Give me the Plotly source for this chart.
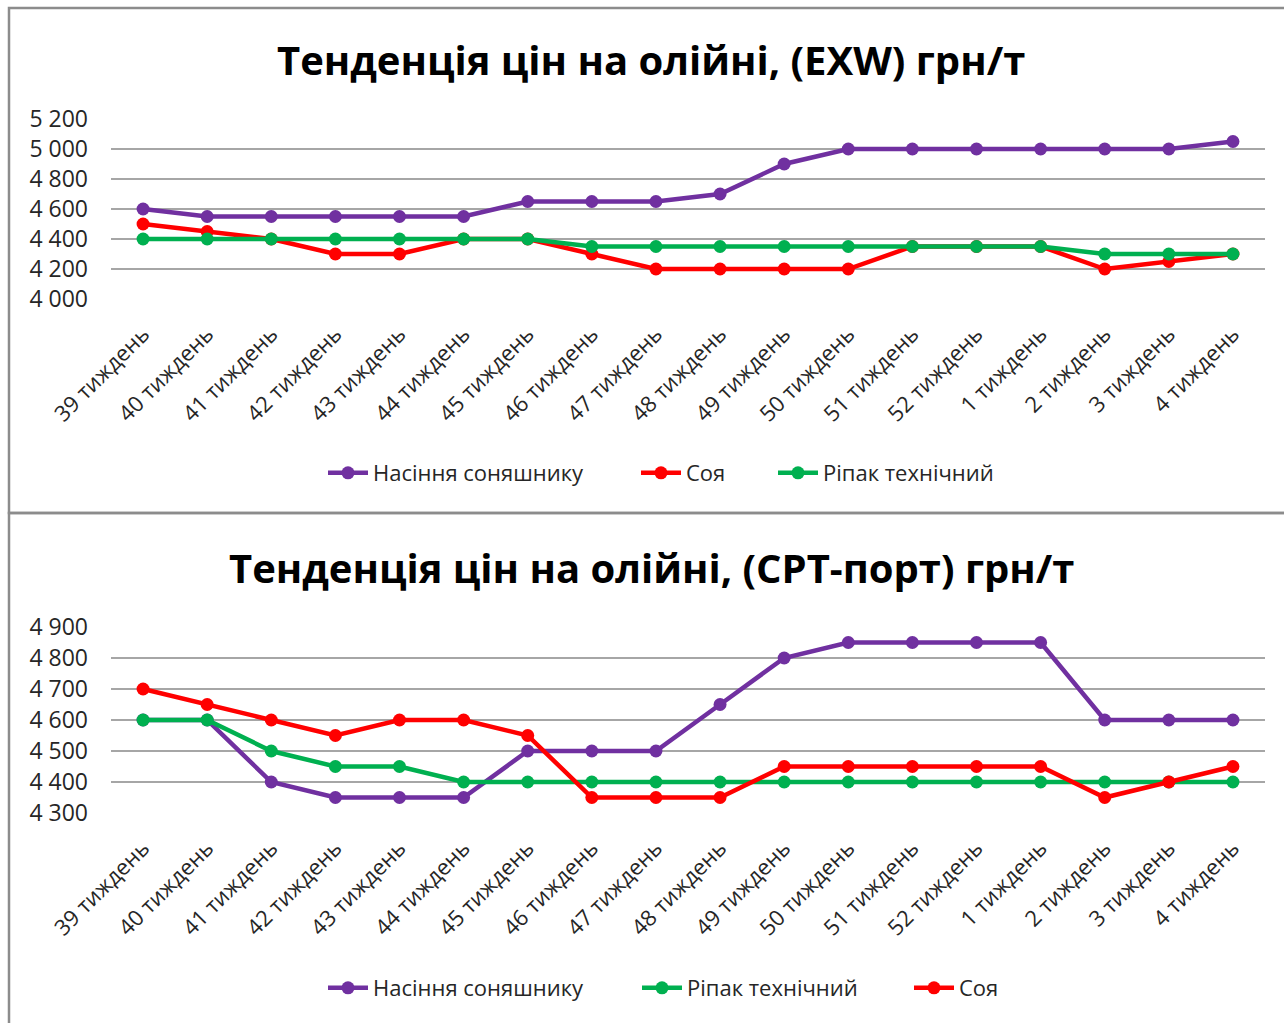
import plotly.graph_objects as go

W, H = 1284, 1023

weeks = ["39 тиждень", "40 тиждень", "41 тиждень", "42 тиждень", "43 тиждень", "44 тиждень",
         "45 тиждень", "46 тиждень", "47 тиждень", "48 тиждень", "49 тиждень", "50 тиждень",
         "51 тиждень", "52 тиждень", "1 тиждень", "2 тиждень", "3 тиждень", "4 тиждень"]

# Chart 1: EXW
exw_sunflower = [4600, 4550, 4550, 4550, 4550, 4550, 4650, 4650, 4650, 4700, 4900, 5000,
                 5000, 5000, 5000, 5000, 5000, 5050]
exw_soy = [4500, 4450, 4400, 4300, 4300, 4400, 4400, 4300, 4200, 4200, 4200, 4200,
           4350, 4350, 4350, 4200, 4250, 4300]
exw_rapeseed = [4400, 4400, 4400, 4400, 4400, 4400, 4400, 4350, 4350, 4350, 4350, 4350,
                4350, 4350, 4350, 4300, 4300, 4300]

# Chart 2: CPT-port
cpt_sunflower = [4600, 4600, 4400, 4350, 4350, 4350, 4500, 4500, 4500, 4650, 4800, 4850,
                 4850, 4850, 4850, 4600, 4600, 4600]
cpt_rapeseed = [4600, 4600, 4500, 4450, 4450, 4400, 4400, 4400, 4400, 4400, 4400, 4400,
                4400, 4400, 4400, 4400, 4400, 4400]
cpt_soy = [4700, 4650, 4600, 4550, 4600, 4600, 4550, 4350, 4350, 4350, 4450, 4450,
           4450, 4450, 4450, 4350, 4400, 4450]

title1 = "Тенденція цін на олійні, (EXW) грн/т"
title2 = "Тенденція цін на олійні, (CPT-порт) грн/т"
name_sun = "Насіння соняшнику"
name_soy = "Соя"
name_rap = "Ріпак технічний"

PURPLE, RED, GREEN = "#7030A0", "#FF0000", "#00B050"
FONT = "Open Sans"


def px_x(x):
    return x / W


def px_y(y):
    return 1 - y / H


fig = go.Figure()


def add(x, y, name, color, xa, ya, legend):
    fig.add_trace(go.Scatter(
        x=x, y=y, name=name, mode="lines+markers",
        line=dict(color=color, width=4.5),
        marker=dict(color=color, size=13),
        xaxis=xa, yaxis=ya, legend=legend,
    ))


# each legend entry gets its own legend box so that spacing matches the original
add(weeks, exw_sunflower, name_sun, PURPLE, "x", "y", "legend")
add(weeks, exw_soy, name_soy, RED, "x", "y", "legend2")
add(weeks, exw_rapeseed, name_rap, GREEN, "x", "y", "legend3")

add(weeks, cpt_sunflower, name_sun, PURPLE, "x2", "y2", "legend4")
add(weeks, cpt_rapeseed, name_rap, GREEN, "x2", "y2", "legend5")
add(weeks, cpt_soy, name_soy, RED, "x2", "y2", "legend6")

xdom = [px_x(111), px_x(1265)]
grid = "#A6A6A6"
ytickfont = dict(family=FONT, size=23, color="#262626")
xtickfont = dict(family=FONT, size=22, color="#262626")

xcommon = dict(type="category", categoryorder="array", categoryarray=weeks,
               range=[-0.5, len(weeks) - 0.5], domain=xdom, tickangle=-45,
               showgrid=False, showline=False, ticks="", tickfont=xtickfont,
               ticklabelstandoff=17, automargin=False)
ycommon = dict(showgrid=True, gridcolor=grid, gridwidth=1.5, zeroline=False,
               showline=False, ticks="", tickfont=ytickfont, tickformat=",d",
               ticklabelstandoff=22, automargin=False)

legfont = dict(family=FONT, size=22, color="#262626")


def leg(text_start_px, y_px):
    return dict(orientation="h", x=px_x(text_start_px - 50), xanchor="left",
                y=px_y(y_px), yanchor="middle", font=legfont,
                itemwidth=40, bgcolor="rgba(0,0,0,0)")


fig.update_layout(
    width=W, height=H, autosize=False,
    margin=dict(l=0, r=0, t=0, b=0, pad=0, autoexpand=False),
    paper_bgcolor="white", plot_bgcolor="white",
    separators=". ",
    xaxis=dict(xcommon, anchor="y"),
    yaxis=dict(ycommon, anchor="x", domain=[px_y(299), px_y(119)],
               range=[4000, 5200], dtick=200),
    xaxis2=dict(xcommon, anchor="y2"),
    yaxis2=dict(ycommon, anchor="x2", domain=[px_y(813), px_y(627)],
                range=[4300, 4900], dtick=100),
    legend=leg(373, 473),
    legend2=leg(686, 473),
    legend3=leg(823, 473),
    legend4=leg(373, 988),
    legend5=leg(687, 988),
    legend6=leg(959, 988),
    showlegend=True,
)

fig.add_annotation(text="<b>" + title1 + "</b>", x=px_x(651), y=px_y(60),
                   xref="paper", yref="paper", showarrow=False,
                   xanchor="center", yanchor="middle",
                   font=dict(family=FONT, size=40, color="black"))
fig.add_annotation(text="<b>" + title2 + "</b>", x=px_x(652), y=px_y(567),
                   xref="paper", yref="paper", showarrow=False,
                   xanchor="center", yanchor="middle",
                   font=dict(family=FONT, size=40, color="black"))

border = dict(color="#8C8C8C", width=2.5)
fig.add_shape(type="rect", xref="paper", yref="paper",
              x0=px_x(9), x1=px_x(1290), y0=px_y(513), y1=px_y(8), line=border)
fig.add_shape(type="rect", xref="paper", yref="paper",
              x0=px_x(9), x1=px_x(1290), y0=px_y(1030), y1=px_y(513), line=border)

fig.write_html("out.html", config={"responsive": False, "displayModeBar": False},
               post_script="document.body.style.margin='0px';document.body.style.overflow='hidden';")
